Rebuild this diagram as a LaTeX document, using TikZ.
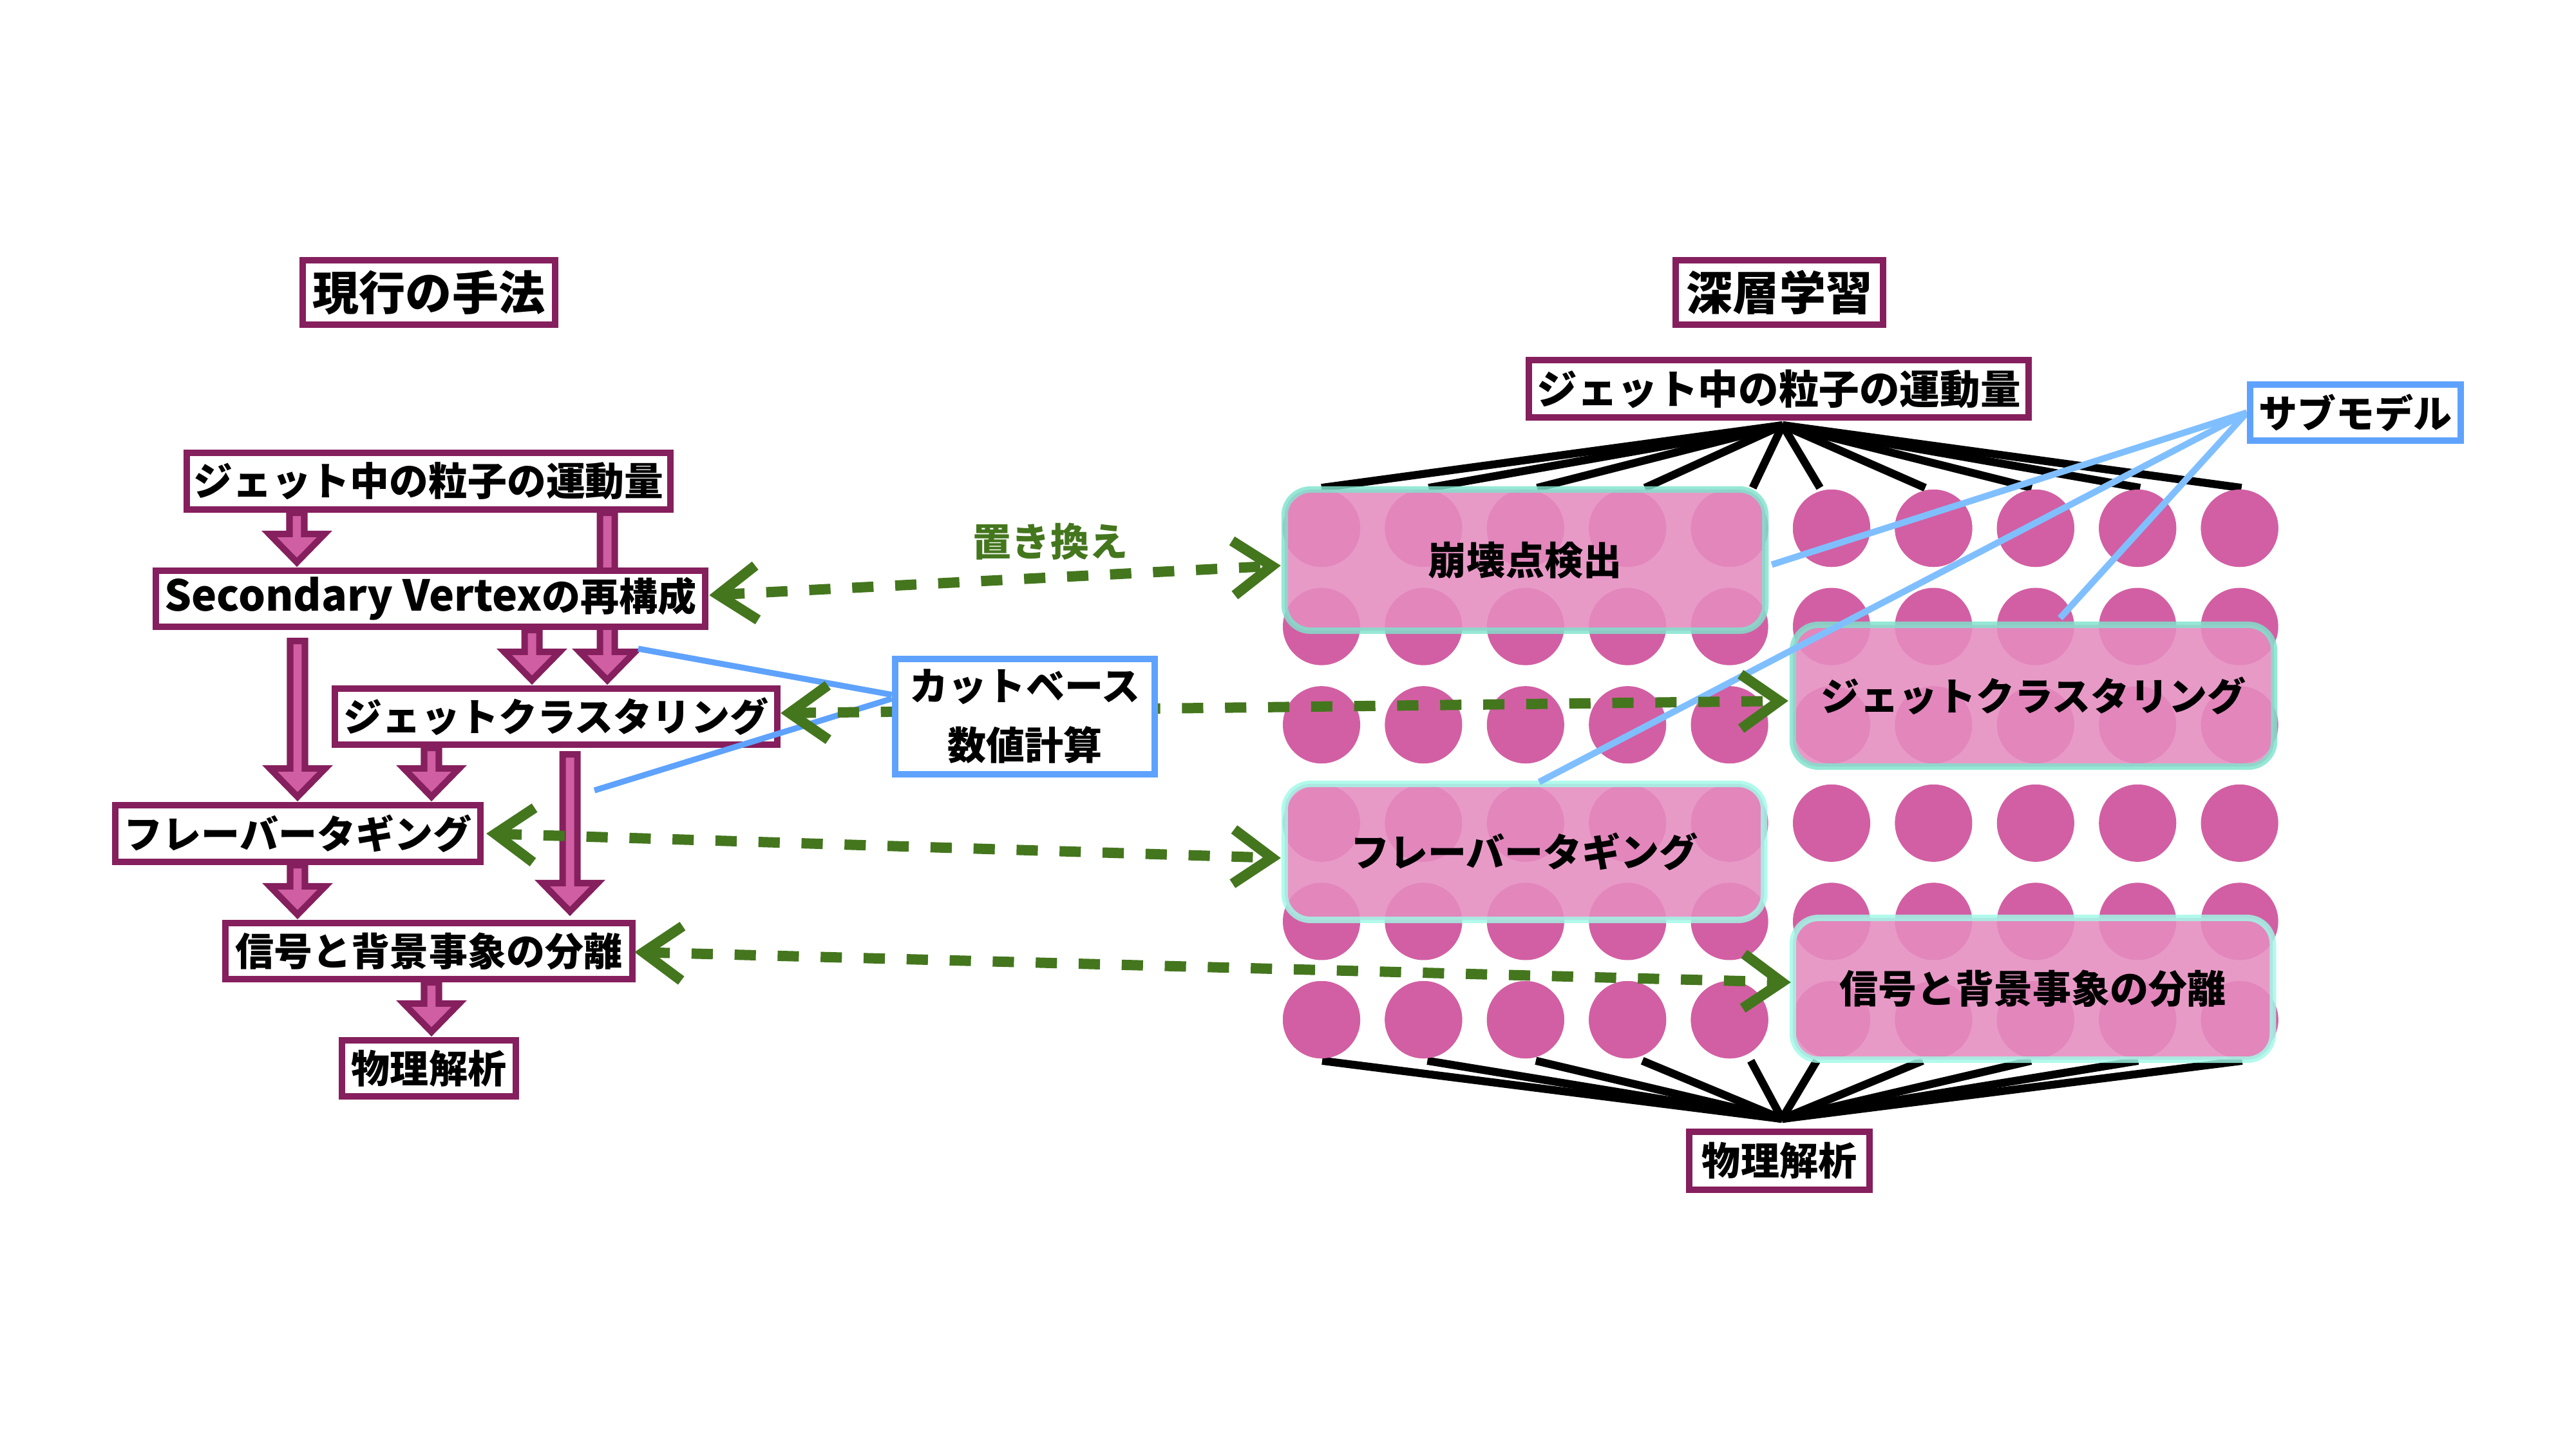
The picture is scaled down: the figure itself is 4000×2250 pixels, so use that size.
\documentclass[tikz,border=0pt]{standalone}
\usepackage{fontspec}
\setmainfont{Noto Sans CJK JP}
\usetikzlibrary{calc,arrows.meta}
\definecolor{mag}{RGB}{133,31,93}
\definecolor{apink}{RGB}{208,94,162}
\definecolor{circ}{RGB}{210,95,163}
\definecolor{rrfill}{RGB}{229,140,192}
\definecolor{tealA}{RGB}{127,227,205}
\definecolor{tealB}{RGB}{160,250,232}
\definecolor{bl}{RGB}{94,162,253}
\definecolor{blB}{RGB}{128,191,255}
\definecolor{grn}{RGB}{68,118,30}
\newcommand\fT{\fontsize{20.49pt}{24pt}\selectfont\bfseries}
\newcommand\fL{\fontsize{17.07pt}{20pt}\selectfont\bfseries}
\newcommand\fM{\fontsize{17.3pt}{21pt}\selectfont\bfseries}
\newcommand\fD{\fontsize{17.8pt}{21pt}\selectfont\bfseries}
\newcommand\fC{\fontsize{17.07pt}{26.2pt}\selectfont\bfseries}
\newcommand\fLat{\fontsize{18.78pt}{22pt}\selectfont}
\newcommand\blockarr[2]{%
  \draw[barr] let \p1=#1, \p2=#2 in
   (\x1-3.27pt,\y1) -- (\x1-3.27pt,\y2+14.8pt) -- (\x1-12.23pt,\y2+14.8pt) --
   (\x1,\y2+2.3pt) -- (\x1+12.23pt,\y2+14.8pt) -- (\x1+3.27pt,\y2+14.8pt) --
   (\x1+3.27pt,\y1) -- cycle;}
\begin{document}
\begin{tikzpicture}[x=0.01cm,y=-0.01cm,
  mbox/.style={rectangle,draw=mag,line width=2.85pt,fill=white,inner sep=0pt},
  bbox/.style={rectangle,draw=bl,line width=2.85pt,fill=white,inner sep=0pt},
  barr/.style={fill=apink,draw=mag,line width=2.85pt,line join=miter},
  dot/.style={circle,fill=circ,inner sep=0pt,minimum size=12mm},
  fan/.style={draw=black,line width=3.5pt},
  rr/.style={rectangle,rounded corners=11.4pt,line width=2.85pt,fill=rrfill,
     fill opacity=0.875,draw opacity=0.82,text opacity=1,inner sep=0pt,font=\fL},
  cbline/.style={draw=bl,line width=2.6pt},
  smline/.style={draw=blB,line width=2.85pt},
  garr/.style={draw=grn,line width=4.55pt,dash pattern=on 9.4pt off 9.6pt,
     >={Straight Barb[length=17pt,width=24pt]},<->},
  glabel/.style={text=grn,font=\fL,inner sep=0pt}
]
\fill[white] (0,0) rectangle (4000,2250);
\useasboundingbox (0,0) rectangle (4000,2250);

% ---------- left column ----------
\node[mbox,font=\fT,minimum width=39.2mm,minimum height=10mm] (T1) at (666,454) {現行の手法};
\path (665.5,747) node[mbox,minimum width=75.1mm,minimum height=8.8mm] (L1) {};
\path (668.5,929.5) node[mbox,minimum width=85.3mm,minimum height=8.7mm] (SV) {};
\path (863.5,1112.5) node[mbox,minimum width=68.7mm,minimum height=8.7mm] (JC) {};
\path (462.5,1294) node[mbox,minimum width=56.7mm,minimum height=8.8mm] (FT) {};
\path (666,1476.5) node[mbox,minimum width=63.2mm,minimum height=8.7mm] (SG) {};
\path (666,1658.5) node[mbox,minimum width=27mm,minimum height=8.7mm] (PH) {};

% block arrows
\blockarr{(461,0 |- L1.south)}{(461,0 |- SV.north)}
\blockarr{(943,0 |- L1.south)}{(943,0 |- JC.north)}
\blockarr{(826,0 |- SV.south)}{(826,0 |- JC.north)}
\blockarr{($(462,0 |- SV.south)+(0,17)$)}{(462,0 |- FT.north)}
\blockarr{(670,0 |- JC.south)}{(670,0 |- FT.north)}
\blockarr{($(885,0 |- JC.south)+(0,10)$)}{($(885,0 |- SG.north)+(0,-5)$)}
\blockarr{(462,0 |- FT.south)}{(462,0 |- SG.north)}
\blockarr{(670,0 |- SG.south)}{(670,0 |- PH.north)}

% boxes on top of arrows
\node[mbox,font=\fM,minimum width=75.1mm,minimum height=8.8mm] at (L1) {ジェット中の粒子の運動量};
\node[mbox,font=\fL,minimum width=85.3mm,minimum height=8.7mm] at (SV) {{\fLat Secondary Vertex}の再構成};
\node[mbox,font=\fL,minimum width=68.7mm,minimum height=8.7mm] at (JC) {ジェットクラスタリング};
\node[mbox,font=\fL,minimum width=56.7mm,minimum height=8.8mm] at (FT) {フレーバータギング};
\node[mbox,font=\fL,minimum width=63.2mm,minimum height=8.7mm] at (SG) {信号と背景事象の分離};
\node[mbox,font=\fL,minimum width=27mm,minimum height=8.7mm] at (PH) {物理解析};

% ---------- cut-base box and lines ----------
\path (1591.5,1112.5) node[bbox,minimum width=40.3mm,minimum height=17.9mm] (CB) {};
\coordinate (cbA) at (991,1007);
\coordinate (cbB) at (923,1227);
\draw[cbline] (cbA) -- ($(CB.west)+(0,-34)$);
\draw[cbline] (cbB) -- ($(CB.west)+(0,-28)$);

% ---------- deep learning side ----------
\node[mbox,font=\fT,minimum width=32.2mm,minimum height=10mm] (T2) at (2763,454) {深層学習};
\path (2762,603.5) node[mbox,minimum width=77.6mm,minimum height=8.9mm] (D1) {};
\path (2763,1802) node[mbox,minimum width=28mm,minimum height=9mm] (P2) {};

\foreach \i in {0,...,9}{
  \foreach \j in {0,...,5}{
    \path ({2052+158.4*\i},{820+152.6*\j}) node[dot] (c\i-\j) {};
  }
}
\coordinate (hubT) at ($(D1.south)+(6,7)$);
\coordinate (hubB) at ($(P2.north)+(4,-15)$);
\foreach \i/\dx in {0/0,1/8,2/18,3/27,4/36,5/-18,6/-13,7/-6,8/4,9/3}{
  \draw[fan] (hubT) -- ($(c\i-0.north)+(\dx,-2)$);
}
\foreach \i/\dx in {0/1,1/6,2/16,3/23,4/33,5/-23,6/-17,7/-7,8/1,9/4}{
  \draw[fan] (hubB) -- ($(c\i-5.south)+(\dx,3)$);
}
% circles over the fan ends
\foreach \i in {0,...,9}{
  \fill[circ] (c\i-0) circle (60);
  \fill[circ] (c\i-5) circle (60);
}

\node[rr,draw=tealA,minimum width=74.6mm,minimum height=21.9mm] (R1) at (2368,869.5) {崩壊点検出};
\node[rr,draw=tealA,minimum width=74.7mm,minimum height=22mm] (R2) at (3157.5,1080) {ジェットクラスタリング};
\node[rr,draw=tealB,minimum width=74.4mm,minimum height=21.1mm] (R3) at (2367,1322.5) {フレーバータギング};
\node[rr,draw=tealB,minimum width=74.5mm,minimum height=22mm] (R4) at (3156.5,1535) {信号と背景事象の分離};

\node[mbox,font=\fD,minimum width=77.6mm,minimum height=8.9mm] at (D1) {ジェット中の粒子の運動量};
\node[mbox,font=\fL,minimum width=28mm,minimum height=9mm] at (P2) {物理解析};

% sub-model box and lines
\node[bbox,font=\fL,minimum width=32.7mm,minimum height=8.7mm] (SM) at (3657.5,640.5) {サブモデル};
\draw[smline] (SM.west) -- ($(R1.east)+(5,7)$);
\draw[smline] (SM.west) -- ($(R3.north)+(23,2)$);
\draw[smline] (SM.west) -- ($(c7-1)+(38,-13)$);
\node[bbox,font=\fL,minimum width=32.7mm,minimum height=8.7mm] at (SM) {サブモデル};

% ---------- green replacement arrows ----------
\draw[garr] ($(SV.east)+(1,-5.5)$) -- ($(R1.west)+(-1,8.5)$);
\draw[garr] ($(JC.east)+(0,-5.5)$) -- ($(R2.west)+(-2,8)$);
\draw[garr] ($(FT.east)+(4,0)$) -- ($(R3.west)+(-1,9.5)$);
\draw[garr] ($(SG.east)+(-2,1.5)$) -- ($(R4.west)+(2,-10)$);
\node[glabel] (rep) at (1631,841) {置き換え};

% cut-base box on top
\node[bbox,font=\fC,align=center,minimum width=40.3mm,minimum height=17.9mm] at (CB) {カットベース\\数値計算};
\end{tikzpicture}
\end{document}
